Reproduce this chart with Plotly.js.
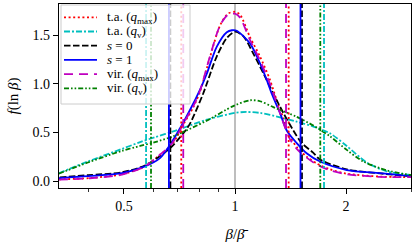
<!DOCTYPE html>
<html><head><meta charset="utf-8">
<script src="https://cdn.plot.ly/plotly-3.0.1.min.js"></script>
<style>html,body{margin:0;padding:0;background:#fff}#c{width:416px;height:242px}</style>
</head><body><div id="c"></div>
<script>
// ---- data ----
const seriesNames = ["t.a. (<i>q</i><sub>max</sub>)", "t.a. (<i>q</i><sub>v</sub>)", "<i>s</i> = 0", "<i>s</i> = 1", "vir. (<i>q</i><sub>max</sub>)", "vir. (<i>q</i><sub>v</sub>)"];

const betaTaQmax = [0.333,0.404,0.494,0.570,0.626,0.666,0.695,0.724,0.771,0.804,0.855,0.911,0.957,1.0,1.032,1.098,1.169,1.244,1.297,1.352,1.409,1.47,1.564,1.665,1.809,2.009,2.473,3.0];
const fTaQmax    = [0.017,0.03,0.07,0.15,0.27,0.35,0.45,0.58,0.76,0.92,1.27,1.60,1.72,1.74,1.71,1.48,1.28,1.04,0.83,0.65,0.46,0.35,0.25,0.18,0.12,0.075,0.045,0.04];

const betaVirQmax = [0.333,0.404,0.494,0.570,0.626,0.666,0.695,0.724,0.771,0.804,0.855,0.911,0.957,1.0,1.032,1.098,1.169,1.244,1.297,1.352,1.409,1.47,1.564,1.665,1.809,2.009,2.473,3.0];
const fVirQmax    = [0.015,0.028,0.065,0.15,0.27,0.36,0.46,0.59,0.77,0.93,1.28,1.60,1.71,1.72,1.68,1.45,1.24,1.00,0.80,0.60,0.43,0.33,0.24,0.17,0.11,0.07,0.042,0.04];

const betaS1 = [0.333,0.40,0.494,0.570,0.626,0.666,0.709,0.755,0.804,0.838,0.892,0.950,0.981,1.011,1.098,1.169,1.219,1.257,1.324,1.381,1.47,1.564,1.70,2.009,2.473,3.0];
const fS1    = [0.03,0.05,0.08,0.15,0.235,0.37,0.54,0.73,0.94,1.10,1.38,1.53,1.55,1.545,1.415,1.21,1.04,0.90,0.70,0.52,0.39,0.285,0.20,0.113,0.08,0.05];

const betaS0 = [0.335,0.40,0.494,0.570,0.666,0.724,0.755,0.820,0.892,0.950,1.0,1.053,1.121,1.193,1.270,1.352,1.439,1.517,1.631,1.70,2.009,2.473,3.0];
const fS0    = [0.038,0.06,0.09,0.16,0.336,0.49,0.59,0.90,1.28,1.47,1.535,1.49,1.31,1.11,0.90,0.70,0.52,0.39,0.29,0.22,0.12,0.078,0.05];

const betaTaQv = [0.333,0.399,0.494,0.553,0.607,0.680,0.838,1.0,1.076,1.169,1.244,1.47,1.631,1.809,2.009,2.276,2.578,3.0];
const fTaQv    = [0.08,0.20,0.33,0.40,0.45,0.51,0.63,0.70,0.71,0.70,0.68,0.61,0.56,0.49,0.36,0.19,0.10,0.06];

const betaVirQv = [0.333,0.399,0.494,0.553,0.607,0.680,0.838,0.989,1.098,1.169,1.270,1.47,1.631,1.809,2.009,2.228,2.578,3.0];
const fVirQv    = [0.075,0.19,0.31,0.36,0.40,0.46,0.62,0.77,0.83,0.82,0.76,0.66,0.57,0.46,0.32,0.20,0.11,0.06];

// vertical marker positions (lower, upper) per series
const vTaQmax  = [0.715, 1.398];
const vTaQv    = [0.574, 1.743];
const vS0      = [0.668, 1.519];
const vS1      = [0.662, 1.505];
const vVirQmax = [0.724, 1.375];
const vVirQv   = [0.592, 1.703];

const xTickVals = [0.5, 1, 2];
const xTickText = ["0.5", "1", "2"];
const xMinorVals = [0.4, 0.6, 0.7, 0.8, 0.9, 3];
const yTickVals = [0, 0.5, 1, 1.5];
const yTickText = ["0.0", "0.5", "1.0", "1.5"];
const refLine = 1;

// ---- styles ----
const FAM = "Liberation Serif, DejaVu Serif, serif";
const styles = [
  {color:"#ff0000", dash:"2px,2.6px", w:1.8},
  {color:"#00bfbf", dash:"6px,2px,2px,2px", w:1.8},
  {color:"#000000", dash:"6.5px,2.5px", w:1.8},
  {color:"#0000ff", dash:"solid", w:1.8},
  {color:"#bf00bf", dash:"9px,6px", w:1.8},
  {color:"#008000", dash:"5px,2px,1.6px,2px,1.6px,2px", w:1.8}
];
const curves = [
  [betaTaQmax, fTaQmax], [betaTaQv, fTaQv], [betaS0, fS0],
  [betaS1, fS1], [betaVirQmax, fVirQmax], [betaVirQv, fVirQv]
];
const vlines = [vTaQmax, vTaQv, vS0, vS1, vVirQmax, vVirQv];

const traces = curves.map((c, i) => ({
  x: c[0], y: c[1], type: "scatter", mode: "lines", name: seriesNames[i],
  line: {color: styles[i].color, dash: styles[i].dash, width: styles[i].w, shape: "spline", smoothing: 0.8},
  showlegend: false, hoverinfo: "skip"
}));

const L = 59, R = 411, T = 4, B = 188, W = 416, H = 242;
const px = x => (x - L) / (R - L);
const py = y => (B - y) / (B - T);

const shapes = [];
shapes.push({type:"line", xref:"x", yref:"paper", x0:refLine, x1:refLine, y0:0, y1:1, layer:"below",
  line:{color:"#a8a8a8", width:1.5}});
vlines.forEach((v, i) => v.forEach(xv => shapes.push({
  type:"line", xref:"x", yref:"paper", x0:xv, x1:xv, y0:0, y1:1, layer:"above",
  line:{color:styles[i].color, dash:styles[i].dash, width:1.8}
})));
// legend frame
shapes.push({type:"rect", xref:"paper", yref:"paper", x0:px(61), x1:px(190), y0:py(104), y1:py(5),
  layer:"above", fillcolor:"rgba(255,255,255,0.8)", line:{color:"#cccccc", width:1}});
const annotations = [];
seriesNames.forEach((n, i) => {
  const yy = 17.3 + i * 14.2;
  shapes.push({type:"line", xref:"paper", yref:"paper", x0:px(64), x1:px(97), y0:py(yy), y1:py(yy),
    layer:"above", line:{color:styles[i].color, dash:styles[i].dash, width:1.8}});
  annotations.push({xref:"paper", yref:"paper", x:px(105), y:py(yy), xanchor:"left", yanchor:"middle",
    text:n, showarrow:false, font:{family:FAM, size:13, color:"#000"}});
});

const layout = {
  width: W, height: H,
  margin: {l:L, r:W-R, t:T, b:H-B, pad:0},
  paper_bgcolor:"#fff", plot_bgcolor:"#fff",
  font: {family:FAM, size:13, color:"#000"},
  showlegend:false,
  xaxis: {
    type:"log", range:[Math.log10(1/3), Math.log10(3)],
    tickmode:"array", tickvals:xTickVals, ticktext:xTickText,
    ticks:"outside", ticklen:5, tickwidth:1, tickcolor:"#000",
    minor:{tickmode:"array", tickvals:xMinorVals, ticks:"outside", ticklen:3, tickwidth:0.8, tickcolor:"#000", showgrid:false},
    showline:true, linecolor:"#000", linewidth:1.1, mirror:true,
    showgrid:false, zeroline:false, automargin:false,
    tickfont:{family:FAM, size:14, color:"#000"},
    title:{text:"<i>β</i>/<i>β̄</i>", font:{family:FAM, size:15, color:"#000"}, standoff:16}
  },
  yaxis: {
    range:[-0.072, 1.82],
    tickmode:"array", tickvals:yTickVals, ticktext:yTickText,
    ticks:"outside", ticklen:5, tickwidth:1, tickcolor:"#000",
    showline:true, linecolor:"#000", linewidth:1.1, mirror:true,
    showgrid:false, zeroline:false, automargin:false,
    tickfont:{family:FAM, size:14, color:"#000"},
    title:{text:"<i>f</i>(ln <i>β</i>)", font:{family:FAM, size:15, color:"#000"}, standoff:10}
  },
  shapes: shapes,
  annotations: annotations
};
Plotly.newPlot("c", traces, layout, {staticPlot:true, displayModeBar:false});
</script>
</body></html>
